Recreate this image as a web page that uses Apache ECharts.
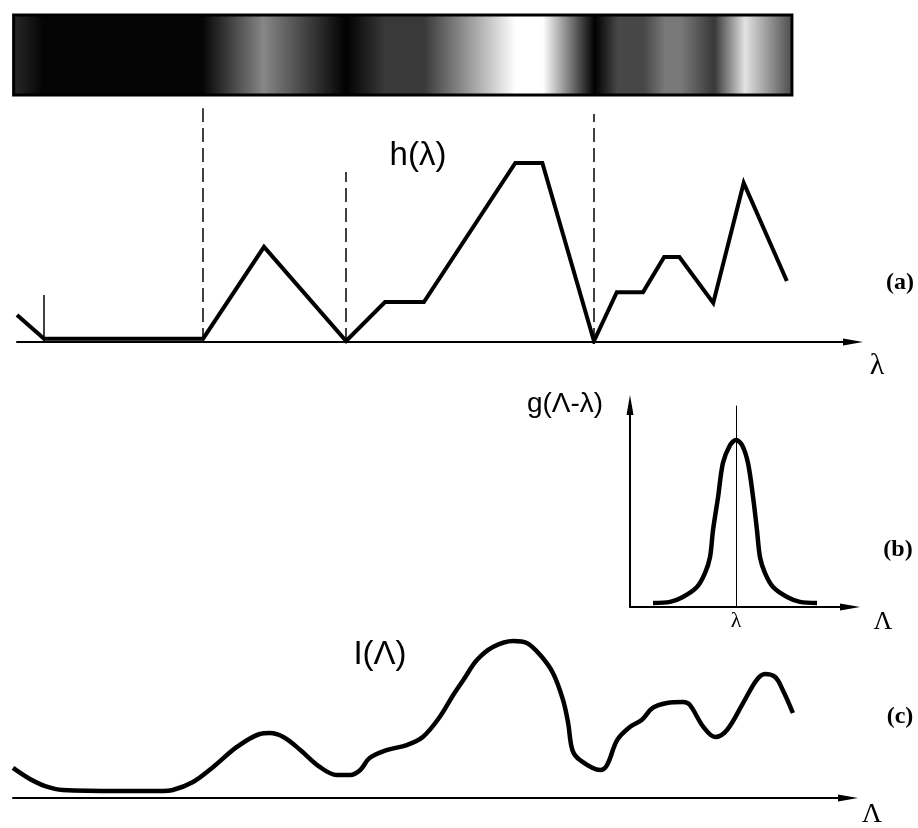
<!DOCTYPE html>
<html><head><meta charset="utf-8">
<script src="https://cdn.jsdelivr.net/npm/echarts@6/dist/echarts.min.js"></script>
<style>html,body{margin:0;padding:0;background:#fff}#c{width:918px;height:828px}</style>
</head><body><div id="c"></div>
<script>
// Panel (a): h(lambda), piecewise linear
const hX = [0, 3.2, 22.0, 29.2, 38.9, 43.5, 48.1, 58.9, 62.1, 68.2, 70.9, 74.0, 76.5, 78.3, 82.3, 85.9, 91.0];
const hY = [8.2, 1.0, 1.0, 29.0, 0.3, 12.2, 12.2, 54.6, 54.6, 0.3, 15.2, 15.2, 25.9, 25.9, 11.9, 48.5, 18.6];
const dashX = [22.0, 38.9, 68.2];
const dashTop = [71.3, 51.8, 69.5];
const tickX = [3.2];
const tickTop = [14.3];
// Panel (b): g(Lambda - lambda)
const gX = [10.0, 17.4, 23.0, 29.1, 32.6, 34.8, 36.1, 38.3, 40.4, 43.5, 46.1, 48.7, 51.3, 53.5, 55.2, 56.5, 58.7, 62.2, 68.3, 73.9, 81.3];
const gY = [1.9, 2.4, 4.7, 9.4, 16.0, 23.6, 36.3, 51.9, 67.9, 76.4, 78.8, 76.4, 67.9, 51.9, 36.3, 23.6, 16.0, 9.4, 4.7, 2.4, 1.9];
const gCenter = [46.1];
// Panel (c): I(Lambda)
const iX = [0, 2.0, 3.8, 5.9, 12.7, 17.4, 18.9, 21.3, 23.7, 26.5, 29.2, 30.4, 32.0, 34.0, 36.3, 38.3, 39.9, 41.1, 42.2, 44.3, 46.6, 48.5, 50.5, 52.1, 53.3, 54.9, 56.8, 59.2, 60.8, 62.4, 63.9, 65.1, 65.7, 66.2, 67.1, 69.5, 70.3, 71.5, 73.0, 74.4, 75.7, 77.4, 79.3, 80.1, 81.7, 83.1, 84.5, 86.4, 88.0, 89.0, 90.2, 91.1, 92.3];
const iY = [17.9, 11.3, 7.1, 4.8, 4.2, 4.2, 4.8, 9.5, 18.5, 30.4, 38.1, 38.7, 36.3, 28.6, 18.5, 13.7, 13.7, 16.7, 23.8, 28.6, 31.5, 36.3, 48.2, 61.3, 70.2, 82.1, 89.9, 93.5, 92.3, 85.1, 74.4, 58.3, 44.6, 28.6, 22.6, 16.7, 19.6, 34.5, 42.3, 46.4, 53.6, 56.5, 57.1, 55.4, 42.3, 36.3, 40.5, 56.5, 70.2, 73.8, 72.0, 64.3, 50.6];
// Labels
const labels = {h: 'h(λ)', a: '(a)', lam: 'λ', g: 'g(Λ-λ)', b: '(b)', Lam: 'Λ', I: 'I(Λ)', c: '(c)'};

const zip = (xs, ys) => xs.map((x, i) => [x, ys[i]]);
const hMax = Math.max(...hY);
const barPadL = 0.4, barPadR = 0.6, barBottom = 75.3, barTop = 99.7;
const bx0 = hX[0] - barPadL, bx1 = hX[hX.length - 1] + barPadR;
const stops = hX.map((x, i) => {
  const v = Math.round(255 * hY[i] / hMax);
  return {offset: (x - bx0) / (bx1 - bx0), color: 'rgb(' + v + ',' + v + ',' + v + ')'};
});
stops.unshift({offset: 0, color: stops[0].color});
stops.push({offset: 1, color: stops[stops.length - 1].color});

const axisArrow = (show) => ({
  show: show, symbol: ['none', 'triangle'], symbolSize: [7, 20],
  lineStyle: {color: '#000', width: 2}
});
const bare = {axisTick: {show: false}, axisLabel: {show: false}, splitLine: {show: false}};

const chart = echarts.init(document.getElementById('c'), null, {renderer: 'canvas'});
const txt = (x, y, text, font) => ({type: 'text', x: x, y: y, silent: true,
  style: {text: text, font: font, fill: '#000', textAlign: 'center', textVerticalAlign: 'middle', align: 'center', verticalAlign: 'middle'}});

chart.setOption({
  animation: false,
  backgroundColor: '#fff',
  grid: [
    {left: 17, top: 14, width: 836, height: 328},
    {left: 630, top: 405, width: 220, height: 202},
    {left: 13, top: 630, width: 835, height: 168}
  ],
  xAxis: [
    Object.assign({type: 'value', gridIndex: 0, min: 0, max: 98.82, axisLine: axisArrow(true)}, bare),
    Object.assign({type: 'value', gridIndex: 1, min: 0, max: 95.65, axisLine: axisArrow(true)}, bare),
    Object.assign({type: 'value', gridIndex: 2, min: 0, max: 98.82, axisLine: axisArrow(true)}, bare)
  ],
  yAxis: [
    {type: 'value', gridIndex: 0, min: 0, max: 100, show: false},
    Object.assign({type: 'value', gridIndex: 1, min: 0, max: 95.28, axisLine: axisArrow(true)}, bare),
    {type: 'value', gridIndex: 2, min: 0, max: 100, show: false}
  ],
  series: [
    {
      type: 'custom', xAxisIndex: 0, yAxisIndex: 0, clip: false, silent: true,
      data: [[bx0, bx1]],
      renderItem: function (params, api) {
        const p0 = api.coord([bx0, barTop]);
        const p1 = api.coord([bx1, barBottom]);
        return {type: 'rect',
          shape: {x: p0[0], y: p0[1], width: p1[0] - p0[0], height: p1[1] - p0[1]},
          style: {fill: {type: 'linear', x: 0, y: 0, x2: 1, y2: 0, colorStops: stops}, stroke: '#000', lineWidth: 3}};
      }
    },
    {
      type: 'line', xAxisIndex: 0, yAxisIndex: 0, data: zip(hX, hY), showSymbol: false, symbol: 'none',
      lineStyle: {color: '#000', width: 4, join: 'miter'}, silent: true,
      markLine: {
        silent: true, symbol: ['none', 'none'], label: {show: false},
        lineStyle: {color: '#000', width: 1.5, type: [14, 6]},
        data: dashX.map((x, i) => [{coord: [x, 0]}, {coord: [x, dashTop[i]]}]).concat(
          tickX.map((x, i) => [{coord: [x, 0], lineStyle: {type: 'solid', width: 1.5}}, {coord: [x, tickTop[i]]}]))
      }
    },
    {
      type: 'line', xAxisIndex: 1, yAxisIndex: 1, data: zip(gX, gY), showSymbol: false, symbol: 'none',
      smooth: 0.3, lineStyle: {color: '#000', width: 4.5}, silent: true,
      markLine: {
        silent: true, symbol: ['none', 'none'],
        lineStyle: {color: '#000', width: 1, type: 'solid'},
        label: {show: true, position: 'start', formatter: labels.lam, distance: 3,
          fontFamily: 'Liberation Serif', fontSize: 22, color: '#000'},
        data: gCenter.map(x => [{coord: [x, 0]}, {coord: [x, 95]}])
      }
    },
    {
      type: 'line', xAxisIndex: 2, yAxisIndex: 2, data: zip(iX, iY), showSymbol: false, symbol: 'none',
      smooth: 0.35, lineStyle: {color: '#000', width: 4.5}, silent: true
    }
  ],
  graphic: [
    txt(418, 156, labels.h, '33px "Liberation Sans"'),
    txt(900, 283, labels.a, 'bold 24px "Liberation Serif"'),
    txt(877, 366, labels.lam, '30px "Liberation Serif"'),
    txt(565, 404, labels.g, '28px "Liberation Sans"'),
    txt(898, 550, labels.b, 'bold 24px "Liberation Serif"'),
    txt(883, 622, labels.Lam, '26px "Liberation Serif"'),
    txt(380, 655, labels.I, '33px "Liberation Sans"'),
    txt(900, 717, labels.c, 'bold 24px "Liberation Serif"'),
    txt(872, 815, labels.Lam, '28px "Liberation Serif"')
  ]
});
</script>
</body></html>
